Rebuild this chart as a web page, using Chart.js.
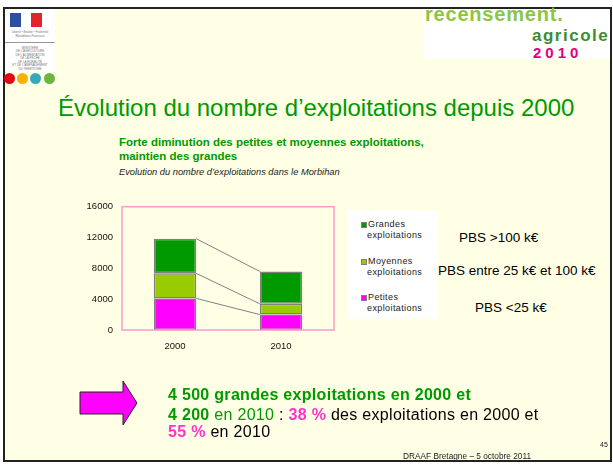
<!DOCTYPE html>
<html lang="fr">
<head>
<meta charset="utf-8">
<title>Évolution du nombre d'exploitations depuis 2000</title>
<script src="https://cdn.jsdelivr.net/npm/chart.js@4.4.7/dist/chart.umd.min.js"></script>
<style>
  html, body { margin: 0; padding: 0; background: #fff; }
  body { width: 613px; height: 464px; position: relative; overflow: hidden; font-family: Arial, "Liberation Sans", sans-serif; }
  .abs { position: absolute; white-space: nowrap; }
  #frame { left: 3px; top: 7px; width: 609px; height: 455px; box-sizing: border-box; border: 2px solid #222; background: #ffffe6; }
  #logoLeft { left: 5px; top: 9px; width: 50px; height: 63px; background: #fff; }
  .tiny { position: absolute; left: 0; width: 100px; text-align: center; font-size: 6px; color: #777; transform: scale(0.5); transform-origin: 0 0; line-height: 7px; }
  .dot { position: absolute; width: 11px; height: 11px; border-radius: 50%; top: 73px; }
  #logoRight { left: 423px; top: 9px; width: 187px; height: 50px; background: #fff; }
  .green { color: #009900; }
  .pink { color: #ff33cc; }
  .leg { position: absolute; font-size: 9px; letter-spacing: 0.4px; color: #222; line-height: 11px; }
  .mark { position: absolute; width: 4px; height: 4px; border: 1px solid #808080; }
  .pbs { font-size: 13.5px; line-height: 16px; color: #000; }
  .big { font-size: 16px; line-height: 20px; letter-spacing: 0.3px; }
</style>
</head>
<body>
<div id="frame" class="abs"></div>

<div id="logoLeft" class="abs">
  <div style="position:absolute;left:5px;top:4px;width:11px;height:14px;background:#2b4fa3"></div>
  <div style="position:absolute;left:16px;top:4px;width:10px;height:14px;background:#fff"></div>
  <div style="position:absolute;left:26px;top:4px;width:11px;height:14px;background:#e3242b"></div>
  <div class="tiny" style="top:21px">Liberté • Égalité • Fraternité</div>
  <div class="tiny" style="top:25px">République Française</div>
  <div style="position:absolute;left:0;top:33px;width:50px;height:1px;background:#999"></div>
  <div class="tiny" style="top:37px">MINISTÈRE<br>DE L'AGRICULTURE<br>DE L'ALIMENTATION<br>DE LA PÊCHE<br>DE LA RURALITÉ<br>ET DE L'AMÉNAGEMENT<br>DU TERRITOIRE</div>
</div>
<div class="dot" style="left:4px;background:#e30613"></div>
<div class="dot" style="left:17px;background:#f9b000"></div>
<div class="dot" style="left:30px;background:#34a9b6"></div>
<div class="dot" style="left:44px;background:#6db33f"></div>

<div id="logoRight" class="abs">
  <div class="abs" style="left:2px;top:-6px;font-size:20px;line-height:22.3px;color:#8cc63f;font-weight:bold;letter-spacing:0.8px">recensement.</div>
  <div class="abs" style="left:109px;top:16.5px;font-size:17px;line-height:19px;color:#3c8d2f;font-weight:bold;letter-spacing:1.5px">agricole</div>
  <div class="abs" style="left:110px;top:35.5px;font-size:15px;line-height:16.8px;color:#e4007c;font-weight:bold;letter-spacing:4px">2010</div>
</div>

<div class="abs green" style="left:58px;top:93px;font-size:24px;line-height:30px">Évolution du nombre d’exploitations depuis 2000</div>

<div class="abs green" style="left:119px;top:135px;font-size:11.5px;line-height:14px;font-weight:bold">Forte diminution des petites et moyennes exploitations,<br>maintien des grandes</div>
<div class="abs" style="left:119px;top:166px;font-size:9.3px;line-height:12px;font-style:italic;color:#222">Evolution du nombre d’exploitations dans le Morbihan</div>

<div class="abs" style="left:78px;top:192px;width:265px;height:165px">
  <canvas id="chart" width="265" height="165"></canvas>
</div>

<div class="abs" style="left:347px;top:210px;width:91px;height:109px;background:#fff" id="legend"></div>

<div class="abs pbs" style="left:459px;top:230px">PBS &gt;100 k€</div>
<div class="abs pbs" style="left:438px;top:263px">PBS entre 25 k€ et 100 k€</div>
<div class="abs pbs" style="left:475px;top:300px">PBS &lt;25 k€</div>

<svg class="abs" style="left:0;top:0" width="613" height="464">
  <polygon points="80,392 123,392 123,381 137,403 123,425 123,414 80,414" fill="#ff00ff" stroke="#222" stroke-width="1"/>
</svg>

<div class="abs big" style="left:168px;top:385px;font-weight:bold;color:#009900">4 500 grandes exploitations en 2000 et</div>
<div class="abs big" style="left:168px;top:405px"><b class="green">4 200</b><span class="green"> en 2010 </span>: <b class="pink">38 %</b> des exploitations en 2000 et</div>
<div class="abs big" style="left:168px;top:422px"><b class="pink">55 %</b> en 2010</div>

<div class="abs" style="left:600px;top:441px;font-size:7px;line-height:8px;color:#222">45</div>
<div class="abs" style="left:403px;top:451px;font-size:8.3px;line-height:10px;color:#222">DRAAF Bretagne – 5 octobre 2011</div>

<script>
  // données (Morbihan)
  var years = ["2000", "2010"];
  var petites = [4100, 2000];
  var moyennes = [3250, 1400];
  var grandes = [4500, 4200];
  var seriesLabels = ["Petites exploitations", "Moyennes exploitations", "Grandes exploitations"];
  var seriesColors = ["#ff00ff", "#99cc00", "#009900"];
  var yTicks = [0, 4000, 8000, 12000, 16000];

  // lignes de liaison entre les barres + cadre rose de la zone de tracé
  var seriesLines = {
    id: "seriesLines",
    afterDatasetsDraw: function (chart) {
      var ctx = chart.ctx;
      ctx.save();
      ctx.strokeStyle = "#808080";
      ctx.lineWidth = 1;
      chart.data.datasets.forEach(function (ds, i) {
        var bars = chart.getDatasetMeta(i).data;
        for (var j = 0; j < bars.length - 1; j++) {
          var a = bars[j], b = bars[j + 1];
          ctx.beginPath();
          ctx.moveTo(a.x + a.width / 2, a.y);
          ctx.lineTo(b.x - b.width / 2, b.y);
          ctx.stroke();
        }
      });
      var area = chart.chartArea;
      ctx.strokeStyle = "#ff99cc";
      ctx.lineWidth = 1.5;
      ctx.strokeRect(area.left, area.top, area.right - area.left, area.bottom - area.top);
      ctx.restore();
    }
  };

  var values = [petites, moyennes, grandes];
  new Chart(document.getElementById("chart"), {
    type: "bar",
    data: {
      labels: years,
      datasets: values.map(function (v, i) {
        return {
          label: seriesLabels[i],
          data: v,
          backgroundColor: seriesColors[i],
          borderColor: "#808080",
          borderWidth: 1.5,
          borderSkipped: false,
          barPercentage: 0.4,
          categoryPercentage: 1,
        };
      }),
    },
    options: {
      responsive: false,
      animation: false,
      devicePixelRatio: 1,
      layout: { padding: { top: 9, right: 9, left: 0, bottom: 0 } },
      plugins: { legend: { display: false }, tooltip: { enabled: false } },
      scales: {
        x: {
          stacked: true,
          grid: { display: false, drawTicks: false },
          border: { display: false },
          ticks: { color: "#111", padding: 11, font: { family: "Arial, 'Liberation Sans'", size: 9.5 } },
          afterFit: function (scale) { scale.height = 27; },
        },
        y: {
          stacked: true,
          min: 0,
          max: 16000,
          grid: { display: false, drawTicks: false },
          border: { display: false },
          afterBuildTicks: function (scale) {
            scale.ticks = yTicks.map(function (v) { return { value: v }; });
          },
          ticks: {
            color: "#111",
            padding: 9,
            font: { family: "Arial, 'Liberation Sans'", size: 9.5 },
            callback: function (value) { return String(value); },
          },
          afterFit: function (scale) { scale.width = 44; },
        },
      },
    },
    plugins: [seriesLines],
  });

  // légende (ordre inversé, comme sur la diapo)
  var legendTops = [12, 49, 85];
  var legend = document.getElementById("legend");
  [2, 1, 0].forEach(function (i, k) {
    var words = seriesLabels[i].split(" ");
    legend.innerHTML +=
      '<div class="mark" style="left:14px;top:' + (legendTops[k]) + 'px;background:' + seriesColors[i] + '"></div>' +
      '<div class="leg" style="left:21px;top:' + (legendTops[k] - 3) + 'px">' + words[0] + '</div>' +
      '<div class="leg" style="left:20px;top:' + (legendTops[k] + 8) + 'px">' + words[1] + '</div>';
  });
</script>
</body>
</html>
